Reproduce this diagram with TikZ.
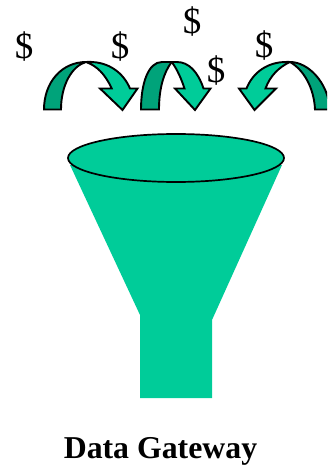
\documentclass[tikz,border=0pt]{standalone}
\usepackage{xcolor}
\usepackage{fontspec}
\setmainfont{Liberation Serif}
\usetikzlibrary{shapes,calc}
\definecolor{funnelgreen}{HTML}{00CC99}
\definecolor{foldgreen}{HTML}{00A37A}

\begin{document}
\begin{tikzpicture}[
  x=1pt,y=-1pt,
  body/.style={fill=funnelgreen},
  rim/.style={draw=black,fill=funnelgreen,line width=1.7pt},
  front/.style={draw=black,fill=funnelgreen,line width=1.9pt,line join=miter},
  back/.style={draw=black,fill=foldgreen,line width=1.9pt,line join=miter},
  coin/.style={font=\fontsize{37}{37}\selectfont,inner sep=0pt},
  title/.style={font=\fontsize{31.8}{34}\selectfont\bfseries,inner sep=0pt}
]
\useasboundingbox (0,0) rectangle (327,468);
\clip (0,0) rectangle (327,468);
% funnel
\fill[body] (70,165) -- (140,315) -- (140,398) -- (212,398) -- (212,320) -- (282,165) -- cycle;
\path[rim] (176,158) ellipse [x radius=108,y radius=24];
% left arrow
\path[back] (44,109.5) .. controls (44,82) and (62,62) .. (86,62) .. controls (72,66) and (61,85) .. (61,109.5) -- cycle;
\path[front] (86,62) -- (90,62) .. controls (108,62) and (123,72) .. (130,88.5) -- (137.5,88.5) -- (122.5,110) -- (100,88.5) -- (111.7,88.5) .. controls (105,74) and (97,66) .. (86,62) -- cycle;
% middle arrow
\path[back] (141,109.5) .. controls (141,84) and (148,62) .. (162,62) -- (171.7,62) .. controls (164,72) and (159,88) .. (159,109.5) -- cycle;
\path[front] (171.7,62) -- (176.7,62) .. controls (189,62) and (198,72) .. (203.5,88.5) -- (210.5,88.5) -- (195,110) -- (175,88.5) -- (184.5,88.5) .. controls (181,78) and (177,69) .. (171.7,62) -- cycle;
% right arrow
\path[back] (330,109.5) .. controls (328,82) and (308,62) .. (290,62) .. controls (304,70) and (314,88) .. (315,109.5) -- cycle;
\path[front] (290,62) -- (286,62) .. controls (268,62) and (253,72) .. (246.5,88.5) -- (239,88.5) -- (254.5,110) -- (276,88.5) -- (265.5,88.5) .. controls (270,76) and (279,67) .. (290,62) -- cycle;
% money
\node[coin] (coinA) at (24,46.5) {\$};
\node[coin] (coinB) at (120,46.5) {\$};
\node[coin] (coinC) at (192,21.5) {\$};
\node[coin] (coinD) at (216,70.5) {\$};
\node[coin] (coinE) at (264,45.5) {\$};
\node[title] (gate) at (160.5,451.5) {Data Gateway};
\end{tikzpicture}
\end{document}
